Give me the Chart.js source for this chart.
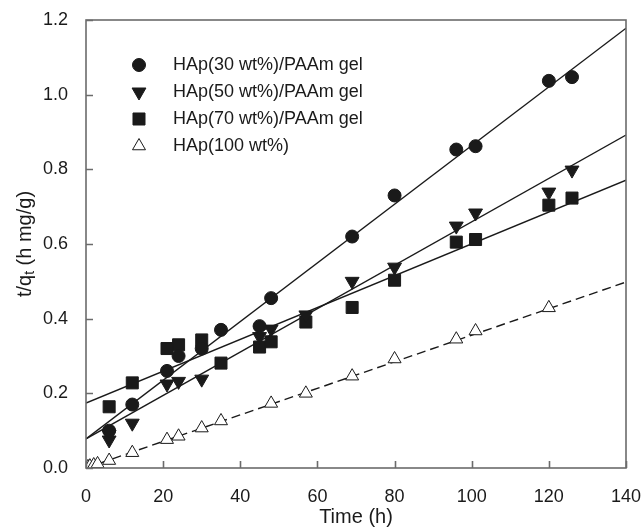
<!DOCTYPE html>
<html>
<head>
<meta charset="utf-8">
<title>Pseudo-second-order kinetics</title>
<script src="https://cdn.jsdelivr.net/npm/chart.js@4.4.0/dist/chart.umd.min.js"></script>
<style>
	html, body { margin: 0; padding: 0; background: #fff; }
	#wrap { width: 644px; height: 530px; position: relative; }
</style>
</head>
<body>
<div id="wrap"><canvas id="kinetics"></canvas></div>
<script>
// t/qt vs time for the HAp/PAAm gels and neat HAp
const labels = ['HAp(30 wt%)/PAAm gel', 'HAp(50 wt%)/PAAm gel', 'HAp(70 wt%)/PAAm gel', 'HAp(100 wt%)'];

const time30 = [6, 12, 21, 24, 30, 35, 45, 48, 69, 80, 96, 101, 120, 126];
const tq30 = [0.10, 0.17, 0.26, 0.30, 0.32, 0.37, 0.38, 0.455, 0.62, 0.73, 0.853, 0.862, 1.037, 1.047];

const time50 = [6, 6, 12, 21, 24, 30, 45, 48, 57, 69, 80, 96, 101, 120, 126];
const tq50 = [0.09, 0.075, 0.12, 0.225, 0.232, 0.238, 0.352, 0.372, 0.41, 0.50, 0.538, 0.648, 0.683, 0.739, 0.798];

const time70 = [6, 12, 21, 24, 30, 35, 45, 48, 57, 69, 80, 96, 101, 120, 126];
const tq70 = [0.164, 0.228, 0.32, 0.33, 0.343, 0.281, 0.324, 0.338, 0.391, 0.43, 0.503, 0.605, 0.612, 0.704, 0.723];

const time100 = [0.5, 1, 2, 3, 6, 12, 21, 24, 30, 35, 48, 57, 69, 80, 96, 101, 120];
const tq100 = [0.003, 0.005, 0.008, 0.011, 0.02, 0.041, 0.076, 0.085, 0.107, 0.126, 0.173, 0.2, 0.246, 0.292, 0.345, 0.367, 0.429];

// linear fits, evaluated at the ends of the time axis
const fitTime = [0, 140];
const fit30 = [0.078, 1.178];
const fit50 = [0.078, 0.892];
const fit70 = [0.174, 0.771];
const fit100 = [0.0, 0.498];

const FONT = '"Liberation Sans", Arial, sans-serif';
const INK = '#1a1a1a';
const FRAME = '#6b6b6b';

const toPoints = (xs, ys) => xs.map((x, i) => ({ x, y: ys[i] }));

const markers = [
	{ pointStyle: 'circle', radius: 6.5, rotation: 0, fill: INK, borderWidth: 1 },
	{ pointStyle: 'triangle', radius: 8, rotation: 180, fill: INK, borderWidth: 1 },
	{ pointStyle: 'rect', radius: 8.5, rotation: 0, fill: INK, borderWidth: 1 },
	{ pointStyle: 'triangle', radius: 7.5, rotation: 0, fill: '#fff', borderWidth: 1 },
];

function pointSet(label, xs, ys, m) {
	return {
		label,
		data: toPoints(xs, ys),
		showLine: false,
		pointStyle: m.pointStyle,
		pointRadius: m.radius,
		pointHoverRadius: m.radius,
		pointRotation: m.rotation,
		pointBackgroundColor: m.fill,
		pointBorderColor: INK,
		pointBorderWidth: m.borderWidth,
	};
}

function fitLine(ys, dashed) {
	return {
		label: 'fit',
		data: toPoints(fitTime, ys),
		showLine: true,
		pointRadius: 0,
		borderColor: INK,
		borderWidth: 1.4,
		borderDash: dashed ? [9, 5] : [],
		fill: false,
	};
}

// frame, inward ticks, y title with subscript and the legend block
const decorations = {
	id: 'decorations',
	afterDraw(chart) {
		const { ctx, chartArea: a, scales } = chart;
		ctx.save();
		ctx.strokeStyle = FRAME;
		ctx.lineWidth = 1.6;
		ctx.strokeRect(a.left, a.top, a.right - a.left, a.bottom - a.top);

		ctx.beginPath();
		scales.y.ticks.forEach((t) => {
			const py = Math.round(scales.y.getPixelForValue(t.value)) + 0.5;
			ctx.moveTo(a.left, py);
			ctx.lineTo(a.left + 7, py);
		});
		scales.x.ticks.forEach((t) => {
			const px = Math.round(scales.x.getPixelForValue(t.value)) + 0.5;
			ctx.moveTo(px, a.bottom);
			ctx.lineTo(px, a.bottom - 7);
		});
		ctx.stroke();

		// y axis title: t/q_t (h mg/g)
		const big = '20px ' + FONT;
		const small = '14px ' + FONT;
		const parts = [['t/q', big, 0], ['t', small, 5], [' (h mg/g)', big, 0]];
		let total = 0;
		parts.forEach(([s, f]) => { ctx.font = f; total += ctx.measureText(s).width; });
		ctx.translate(25, (a.top + a.bottom) / 2);
		ctx.rotate(-Math.PI / 2);
		ctx.fillStyle = INK;
		ctx.textBaseline = 'middle';
		let x = -total / 2;
		parts.forEach(([s, f, dy]) => {
			ctx.font = f;
			ctx.fillText(s, x, dy);
			x += ctx.measureText(s).width;
		});
		ctx.restore();

		// legend
		ctx.save();
		ctx.font = '18px ' + FONT;
		ctx.textBaseline = 'middle';
		const rowY = [65, 92, 119, 146];
		labels.forEach((text, i) => {
			const m = markers[i];
			const opts = { pointStyle: m.pointStyle, radius: m.radius, rotation: m.rotation, borderWidth: m.borderWidth };
			ctx.fillStyle = m.fill;
			ctx.strokeStyle = INK;
			ctx.lineWidth = m.borderWidth;
			Chart.helpers.drawPoint(ctx, opts, 139, rowY[i]);
			ctx.fillStyle = INK;
			ctx.fillText(text, 173, rowY[i]);
		});
		ctx.restore();
	},
};

new Chart(document.getElementById('kinetics'), {
	type: 'scatter',
	data: {
		datasets: [
			pointSet(labels[0], time30, tq30, markers[0]),
			pointSet(labels[1], time50, tq50, markers[1]),
			pointSet(labels[2], time70, tq70, markers[2]),
			pointSet(labels[3], time100, tq100, markers[3]),
			fitLine(fit30, false),
			fitLine(fit50, false),
			fitLine(fit70, false),
			fitLine(fit100, true),
		],
	},
	options: {
		responsive: true,
		maintainAspectRatio: false,
		animation: false,
		layout: { padding: { top: 20, right: 18, left: 0, bottom: 0 } },
		plugins: {
			legend: { display: false },
			tooltip: { enabled: false },
		},
		scales: {
			x: {
				type: 'linear',
				min: 0,
				max: 140,
				grid: { display: false },
				border: { display: false },
				ticks: {
					stepSize: 20,
					padding: 10,
					color: INK,
					font: { family: FONT, size: 18 },
					maxRotation: 0,
				},
				title: {
					display: true,
					text: 'Time (h)',
					color: INK,
					font: { family: FONT, size: 20 },
					padding: { top: 0, bottom: 1 },
				},
				afterFit(scale) {
					scale.height = 62;
					scale.paddingLeft = 0;
					scale.paddingRight = 0;
				},
			},
			y: {
				type: 'linear',
				min: 0,
				max: 1.2,
				grid: { display: false },
				border: { display: false },
				ticks: {
					stepSize: 0.2,
					padding: 10,
					color: INK,
					font: { family: FONT, size: 18 },
					callback: (v) => v.toFixed(1),
				},
				afterFit(scale) {
					scale.width = 86;
					scale.paddingTop = 0;
					scale.paddingBottom = 0;
				},
			},
		},
	},
	plugins: [decorations],
});
</script>
</body>
</html>
